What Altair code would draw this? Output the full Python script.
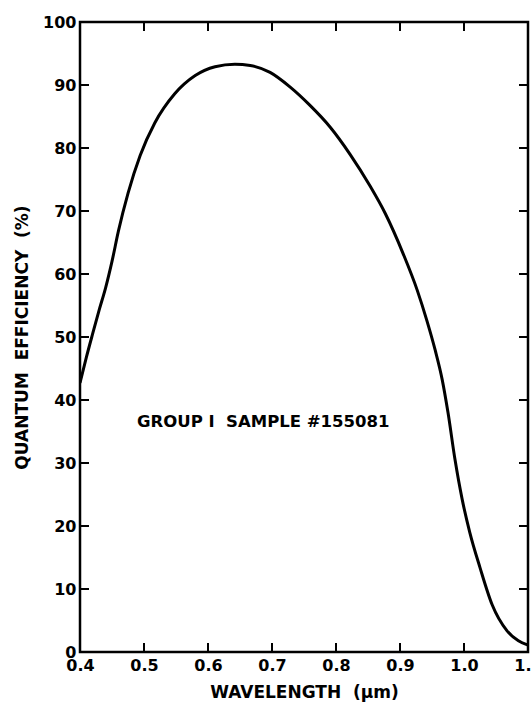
import altair as alt
import pandas as pd

# Curve (wavelength in micrometres, quantum efficiency in %)
wavelength = [0.400, 0.410, 0.420, 0.430, 0.440, 0.450, 0.460, 0.475, 0.494, 0.517,
              0.548, 0.580, 0.611, 0.642, 0.666, 0.697, 0.728, 0.759, 0.791, 0.822,
              0.853, 0.877, 0.905, 0.927, 0.942, 0.955, 0.966, 0.975, 0.986, 0.997,
              1.009, 1.025, 1.044, 1.067, 1.085, 1.100]
efficiency = [42.7, 46.8, 50.6, 54.3, 57.8, 62.0, 66.8, 72.8, 78.8, 84.0,
              88.6, 91.5, 92.9, 93.3, 93.1, 92.0, 89.7, 86.8, 83.3, 79.0,
              74.0, 69.6, 63.2, 57.4, 52.6, 47.9, 43.2, 38.0, 30.5, 24.3,
              19.0, 13.4, 7.5, 3.4, 1.8, 1.1]

x_tick_values = [0.4, 0.5, 0.6, 0.7, 0.8, 0.9, 1.0, 1.1]
y_tick_values = [0, 10, 20, 30, 40, 50, 60, 70, 80, 90, 100]
x_inner_ticks = [0.5, 0.6, 0.7, 0.8, 0.9, 1.0]
y_inner_ticks = [10, 20, 30, 40, 50, 60, 70, 80, 90]

label_lam = [0.489]
label_qe = [36.5]
label_text = ["GROUP I\u00a0\u00a0SAMPLE #155081"]

x_title = "WAVELENGTH\u00a0\u00a0(\u03bcm)"
y_title = "QUANTUM\u00a0\u00a0EFFICIENCY\u00a0\u00a0(%)"

W, H = 448, 630
TL = 9
FONT = "DejaVu Sans"

curve = pd.DataFrame({"lam": wavelength, "qe": efficiency})
xt = pd.DataFrame({"lam": x_inner_ticks})
yt = pd.DataFrame({"qe": y_inner_ticks})
lab = pd.DataFrame({"lam": label_lam, "qe": label_qe, "t": label_text})

xs = alt.Scale(domain=[0.4, 1.1], nice=False, zero=False)
ys = alt.Scale(domain=[0, 100], nice=False)

xaxis = alt.Axis(values=x_tick_values, format=".1f", title=x_title, grid=False,
                 ticks=False, tickSize=0, domain=False, labelPadding=5,
                 labelFont=FONT, labelFontSize=16, labelFontWeight="bold",
                 labelColor="black", labelFlush=False, labelOverlap=False,
                 titleFont=FONT, titleFontSize=17, titleFontWeight="bold",
                 titleColor="black", titlePadding=11)
yaxis = alt.Axis(values=y_tick_values, format="d", title=y_title, grid=False,
                 ticks=False, tickSize=0, domain=False, labelPadding=4,
                 labelFont=FONT, labelFontSize=16, labelFontWeight="bold",
                 labelColor="black", labelFlush=False, labelOverlap=False,
                 titleFont=FONT, titleFontSize=17, titleFontWeight="bold",
                 titleColor="black", titlePadding=11)


def X(f):
    return alt.X(f"{f}:Q", scale=xs, axis=xaxis)


def Y(f):
    return alt.Y(f"{f}:Q", scale=ys, axis=yaxis)


line = alt.Chart(curve).mark_line(color="black", strokeWidth=3, interpolate="monotone",
                                  clip=True).encode(x=X("lam"), y=Y("qe"))

left_ticks = alt.Chart(yt).mark_rule(color="black", strokeWidth=2).encode(
    y=Y("qe"), x=alt.value(0), x2=alt.value(TL))
right_ticks = alt.Chart(yt).mark_rule(color="black", strokeWidth=2).encode(
    y=Y("qe"), x=alt.value(W - TL), x2=alt.value(W))
bottom_ticks = alt.Chart(xt).mark_rule(color="black", strokeWidth=2).encode(
    x=X("lam"), y=alt.value(H), y2=alt.value(H - TL))
top_ticks = alt.Chart(xt).mark_rule(color="black", strokeWidth=2).encode(
    x=X("lam"), y=alt.value(0), y2=alt.value(TL))

text = alt.Chart(lab).mark_text(align="left", baseline="middle", font=FONT,
                                fontSize=16.5, fontWeight="bold", color="black").encode(
    x=X("lam"), y=Y("qe"), text="t:N")

chart = alt.layer(line, left_ticks, right_ticks, bottom_ticks, top_ticks, text).properties(
    width=W, height=H, autosize="none",
    padding={"left": 80, "top": 22, "right": 4, "bottom": 50},
    background="white",
).configure_view(stroke="black", strokeWidth=2.5)

chart.save("out.html", embed_options={"renderer": "svg", "actions": False})
